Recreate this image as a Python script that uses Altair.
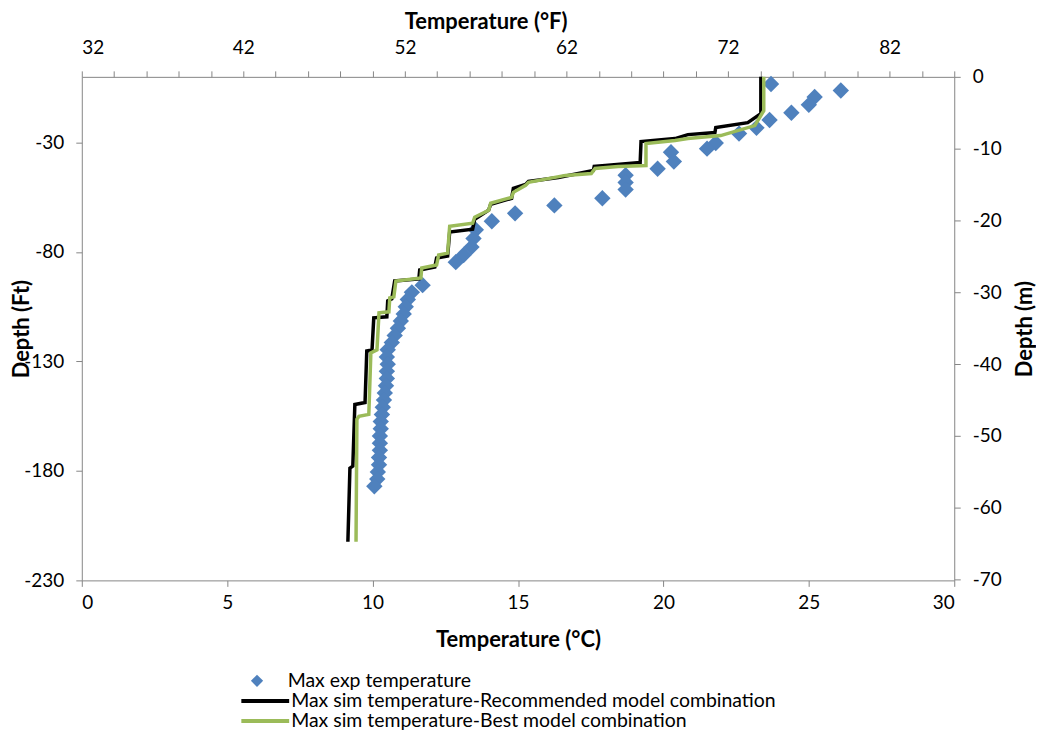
import altair as alt
import pandas as pd

# ---------------- data (°C, depth in m, negative = below surface) ----------------
EXP_T = [23.7, 26.1, 25.2, 25.0, 24.4, 23.65, 23.2, 22.6, 21.8, 21.5,
         20.26, 20.36, 19.8, 18.7, 18.7, 18.7, 17.9, 16.25, 14.9, 14.1,
         13.55, 13.47, 13.4, 13.13, 12.86,
         11.72, 11.35, 11.21, 11.14, 11.07, 10.97, 10.87, 10.76, 10.66, 10.52,
         10.49, 10.52, 10.49, 10.49, 10.46, 10.42, 10.39, 10.35, 10.32, 10.28,
         10.28, 10.25, 10.25, 10.25, 10.22, 10.22, 10.18, 10.16, 10.06]
EXP_D = [-1.0, -1.9, -2.8, -3.9, -5.0, -6.0, -7.1, -7.9, -9.2, -10.0,
         -10.5, -11.8, -12.8, -13.7, -14.7, -15.7, -16.9, -17.9, -19.0, -20.1,
         -21.3, -22.5, -23.7, -24.8, -25.8,
         -29.0, -30.0, -31.0, -32.0, -33.0, -34.0, -35.0, -36.0, -37.0, -38.0,
         -39.0, -40.0, -41.0, -42.0, -43.0, -44.0, -45.0, -46.0, -47.0, -48.0,
         -49.0, -50.0, -51.0, -52.0, -53.0, -54.0, -55.0, -56.0, -57.0]

REC_T = [23.35, 23.35, 22.90, 21.80, 21.77, 20.84, 20.40, 19.23, 19.20, 18.00,
         17.62, 17.59, 16.39, 15.36, 15.26, 14.84, 14.78, 14.06, 13.99, 13.51,
         13.44, 12.65, 12.58, 12.20, 12.14, 11.62, 11.59, 10.76, 10.66, 10.52,
         10.49, 10.04, 9.98, 9.80, 9.74, 9.39, 9.32, 9.22, 9.15]
REC_D = [0.0, -5.13, -6.38, -7.07, -7.76, -8.04, -8.59, -9.01, -11.92, -12.34,
         -12.48, -13.03, -14.00, -14.56, -14.97, -15.53, -16.91, -17.74, -18.57, -19.82,
         -21.21, -21.62, -24.95, -25.23, -26.48, -26.89, -28.14, -28.42, -30.91, -31.19,
         -33.41, -33.55, -38.02, -38.16, -45.33, -45.61, -54.20, -54.48, -64.73]

BEST_T = [23.45, 23.45, 23.14, 21.97, 20.84, 20.40, 19.40, 19.40, 18.44, 17.65,
          17.52, 16.63, 15.36, 15.26, 14.84, 14.78, 14.06, 13.99, 13.51, 13.44,
          12.65, 12.58, 12.27, 12.20, 11.69, 11.66, 10.80, 10.73, 10.59, 10.56,
          10.22, 10.15, 9.94, 9.87, 9.53, 9.46, 9.43]
BEST_D = [0.0, -4.71, -6.79, -8.18, -8.59, -8.87, -9.29, -12.34, -12.48, -12.75,
          -13.45, -13.72, -14.69, -15.11, -16.08, -16.77, -17.60, -18.57, -19.55, -20.38,
          -20.79, -24.54, -24.81, -26.20, -26.62, -28.00, -28.42, -30.63, -30.77, -32.71,
          -32.85, -38.02, -38.43, -46.99, -47.27, -47.69, -64.73]

SERIES = ["Max exp temperature",
          "Max sim temperature-Recommended model combination",
          "Max sim temperature-Best model combination"]
COLORS = ["#4F81BD", "#000000", "#9BBB59"]

C_DOMAIN = [0, 30]
C_TICKS = [0, 5, 10, 15, 20, 25, 30]
F_DOMAIN = [32, 86]
F_TICKS = list(range(32, 87, 2))
M_DOMAIN = [-70.104, 0]
M_TICKS = [0, -10, -20, -30, -40, -50, -60, -70]
FT_DOMAIN = [-230, 0]
FT_TICKS = [-30, -80, -130, -180, -230]

FONT = "Lato"
AXIS_COLOR = "#868686"

exp_df = pd.DataFrame({"T": EXP_T, "d": EXP_D, "series": SERIES[0]})
lines_df = pd.concat([
    pd.DataFrame({"T": REC_T, "d": REC_D, "series": SERIES[1], "idx": range(len(REC_T))}),
    pd.DataFrame({"T": BEST_T, "d": BEST_D, "series": SERIES[2], "idx": range(len(BEST_T))}),
])
axis_df = pd.DataFrame({"F": F_DOMAIN, "ft": FT_DOMAIN})

common_axis = dict(grid=False, domainColor=AXIS_COLOR, tickColor=AXIS_COLOR,
                   labelFont=FONT, labelFontSize=19, labelColor="#000000",
                   titleFont=FONT, titleFontSize=22, titleFontWeight="bold",
                   titleColor="#000000", tickSize=6,
                   labelExpr="'' + datum.value")

axis_layer = alt.Chart(axis_df).mark_point(opacity=0).encode(
    x=alt.X("F:Q", scale=alt.Scale(domain=F_DOMAIN, nice=False, zero=False),
            axis=alt.Axis(orient="top", values=F_TICKS,
                          title="Temperature  (°F)", titleX=405, titleY=-55,
                          titleBaseline="middle", labelPadding=13,
                          **{**common_axis,
                             "labelExpr": "(datum.value - 32) % 10 == 0 ? '' + datum.value : ''"})),
    y=alt.Y("ft:Q", scale=alt.Scale(domain=FT_DOMAIN, nice=False, zero=False),
            axis=alt.Axis(orient="left", values=FT_TICKS, title="Depth (Ft)",
                          titleX=-60, titleBaseline="middle",
                          labelPadding=12, **common_axis)),
)

points = alt.Chart(exp_df).mark_point(shape="diamond", filled=True, size=270, opacity=1).encode(
    x=alt.X("T:Q", scale=alt.Scale(domain=C_DOMAIN, nice=False, zero=False),
            axis=alt.Axis(orient="bottom", values=C_TICKS, title="Temperature (°C)",
                          titleY=59, titleBaseline="middle",
                          labelPadding=7, **common_axis)),
    y=alt.Y("d:Q", scale=alt.Scale(domain=M_DOMAIN, nice=False, zero=False),
            axis=alt.Axis(orient="right", values=M_TICKS, title="Depth (m)",
                          titleAngle=270, titleX=70, titleBaseline="middle",
                          labelPadding=12, **common_axis)),
    color=alt.Color("series:N", scale=alt.Scale(domain=SERIES[:1], range=COLORS[:1]),
                    legend=alt.Legend(orient="none", legendX=166, legendY=596, title=None,
                                      symbolType="diamond", symbolSize=150,
                                      labelFont=FONT, labelFontSize=19.5, labelColor="#000000",
                                      labelOffset=21, padding=0, symbolStrokeWidth=0,
                                      labelLimit=0)),
)

lines = alt.Chart(lines_df).mark_line(strokeWidth=3.5).encode(
    x=alt.X("T:Q", scale=alt.Scale(domain=C_DOMAIN, nice=False, zero=False), axis=None),
    y=alt.Y("d:Q", scale=alt.Scale(domain=M_DOMAIN, nice=False, zero=False), axis=None),
    order="idx:Q",
    color=alt.Color("series:N", scale=alt.Scale(domain=SERIES[1:], range=COLORS[1:]),
                    legend=alt.Legend(orient="none", legendX=158, legendY=616, title=None,
                                      symbolType="stroke", symbolSize=2300,
                                      symbolStrokeWidth=4, clipHeight=20, rowPadding=0,
                                      labelFont=FONT, labelFontSize=19.5, labelColor="#000000",
                                      labelOffset=0, padding=0, labelLimit=0)),
)

chart = alt.layer(axis_layer, points, lines).resolve_scale(
    x="independent", y="independent", color="independent"
).resolve_legend(color="independent").properties(
    width=875, height=505,
    autosize=alt.AutoSizeParams(type="none"),
    padding={"left": 74, "top": 68, "right": 82, "bottom": 150},
).configure_view(stroke=None)

chart.save("out.html", embed_options={"renderer": "svg", "actions": False})
